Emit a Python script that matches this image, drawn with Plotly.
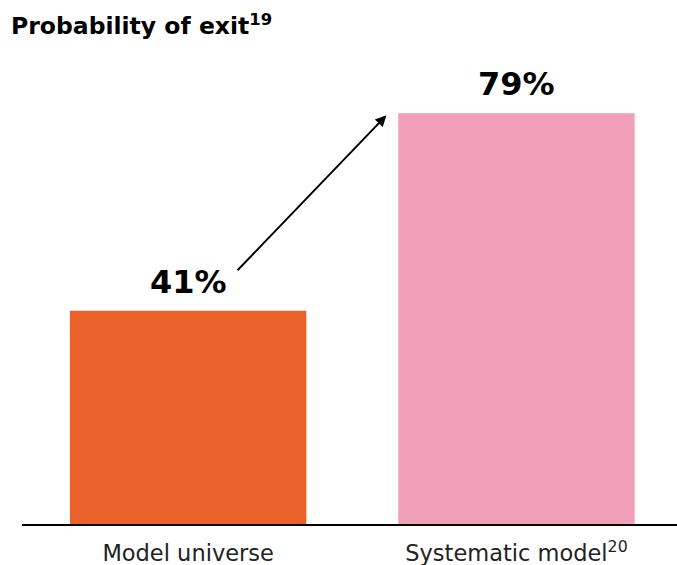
import plotly.graph_objects as go

categories = ["Model universe", "Systematic model<sup>20</sup>"]
values = [41, 79]
value_labels = ["41%", "79%"]
bar_colors = ["#EA6229", "#F19EB8"]
title_text = "<b>Probability of exit<sup>19</sup></b>"

x_pos = list(range(len(categories)))

fig = go.Figure()
fig.add_trace(go.Bar(
    x=x_pos, y=values, width=0.72,
    marker=dict(color=bar_colors, line=dict(width=0)),
    hoverinfo="skip",
))

for xp, v, lab in zip(x_pos, values, value_labels):
    fig.add_annotation(
        x=xp, y=v, xref="x", yref="y", text=f"<b>{lab}</b>",
        showarrow=False, yanchor="bottom", yshift=8,
        font=dict(family="DejaVu Sans", size=32, color="#000000"),
    )

# arrow from above first label to top-left corner of second bar
fig.add_annotation(
    x=x_pos[1] - 0.396, y=values[1] - 0.4, xref="x", yref="y",
    ax=x_pos[0] + 0.146, ay=values[0] + 7.5, axref="x", ayref="y",
    showarrow=True, arrowhead=2, arrowsize=1.1, arrowwidth=2,
    arrowcolor="#000000", text="", standoff=0, startstandoff=0,
)

fig.update_layout(
    width=677, height=565,
    margin=dict(l=22, r=0, t=56, b=41, autoexpand=False),
    paper_bgcolor="white", plot_bgcolor="white",
    showlegend=False,
    title=dict(
        text=title_text, xref="container", yref="container",
        x=11 / 677, y=1 - 18 / 565, xanchor="left", yanchor="top",
        font=dict(family="DejaVu Sans", size=23.5, color="#000000"),
    ),
    xaxis=dict(
        range=[-0.506, 1.489], tickvals=x_pos, ticktext=categories,
        showgrid=False, zeroline=False, showline=True,
        linecolor="#000000", linewidth=2, ticks="",
        ticklabelstandoff=8, automargin=False,
        tickfont=dict(family="DejaVu Sans", size=22.5, color="#222222"),
    ),
    yaxis=dict(range=[0, 90], visible=False, fixedrange=True, automargin=False),
)

fig.write_html(
    "out.html",
    config={"displayModeBar": False},
    post_script="document.body.style.margin='0';document.body.style.overflow='hidden';",
)
